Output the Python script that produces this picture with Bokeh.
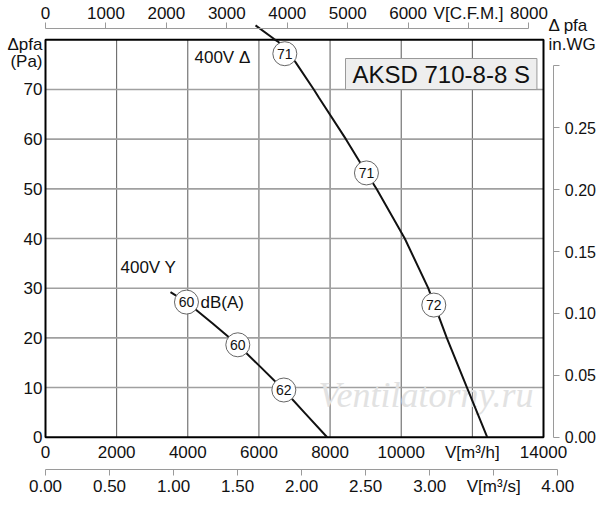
from bokeh.plotting import figure
from bokeh.models import Range1d, LinearAxis, FixedTicker, PrintfTickFormatter, Label
from bokeh.core.properties import value
from bokeh.embed import file_html
from bokeh.resources import INLINE

# ---------------- data ----------------
# 400V Delta curve (m3/h, Pa)
delta_q = [5904, 6418, 6559, 6854, 7028, 7543, 7684, 8445, 9025, 9305, 10100, 10760, 11281, 11849, 12417]
delta_p = [82.9, 80.2, 79.5, 77.0, 75.5, 70.0, 68.4, 60.0, 53.2, 50.0, 40.0, 30.0, 20.0, 10.0, 0.0]
# 400V Y curve
star_q = [3514, 3963, 4700, 5406, 6050, 6700, 7300, 7918]
star_p = [29.2, 27.2, 22.9, 18.6, 14.1, 9.5, 4.8, 0.0]
# sound level markers dB(A)
snd_q = [6728, 9023, 10916, 3963, 5406, 6700]
snd_p = [77.2, 53.2, 26.6, 27.2, 18.6, 9.5]
snd_txt = ["71", "71", "72", "60", "60", "62"]

# axes
m3h_ticks = [0, 2000, 4000, 6000, 8000, 10000, 12000, 14000]
m3h_labels = ["0", "2000", "4000", "6000", "8000", "10000", "V[m³/h]", "14000"]
cfm_ticks = [0, 1000, 2000, 3000, 4000, 5000, 6000, 7000, 8000]
cfm_labels = ["0", "1000", "2000", "3000", "4000", "5000", "6000", "V[C.F.M.]", "8000"]
m3s_ticks = [0.0, 0.5, 1.0, 1.5, 2.0, 2.5, 3.0, 3.5, 4.0]
m3s_labels = ["0.00", "0.50", "1.00", "1.50", "2.00", "2.50", "3.00", "V[m³/s]", "4.00"]
pa_ticks = [0, 10, 20, 30, 40, 50, 60, 70]
pa_max = 80
inwg_ticks = [0.0, 0.05, 0.1, 0.15, 0.2, 0.25, 0.3]
inwg_labels = ["0.00", "0.05", "0.10", "0.15", "0.20", "0.25", ""]

CFM = 1.69901      # m3/h per CFM
M3S = 3600.0       # m3/h per m3/s
INWG = 249.089     # Pa per in.WG

# ---------------- layout (pixels) ----------------
W, H = 598, 498
KX = 498.0 / 14000.0         # px per m3/h
KY = 4.9675                  # px per Pa
PX0, PY0 = 45.0, 436.7       # pixel of data origin


def dx(px):
    return (px - PX0) / KX


def dy(py):
    return (PY0 - py) / KY


X0, X1 = dx(0), dx(W)
Y0, Y1 = dy(H), dy(0)

FONT = "Liberation Sans"
GRAY = "#9a9a9a"
INK = "#111111"

p = figure(width=W, height=H, x_range=Range1d(X0, X1), y_range=Range1d(Y0, Y1),
           output_backend="svg", toolbar_location=None, min_border=0)
p.outline_line_color = None
p.grid.visible = False

p.extra_x_ranges = {"cfm": Range1d(X0 / CFM, X1 / CFM), "m3s": Range1d(X0 / M3S, X1 / M3S)}
p.extra_y_ranges = {"inwg": Range1d(Y0 / INWG, Y1 / INWG)}

# bottom m3/h axis
xa = p.xaxis[0]
xa.fixed_location = 0
xa.ticker = FixedTicker(ticks=m3h_ticks)
xa.major_label_overrides = dict(zip(m3h_ticks, m3h_labels))
xa.axis_line_color = None
xa.major_tick_line_color = None
xa.minor_tick_line_color = None
xa.major_tick_out = 0
xa.major_tick_in = 0
xa.major_label_standoff = 6
xa.major_label_text_font = FONT
xa.major_label_text_font_size = "17px"
xa.major_label_text_color = INK

# left Pa axis
ya = p.yaxis[0]
ya.fixed_location = 0
ya.ticker = FixedTicker(ticks=pa_ticks)
ya.axis_line_color = None
ya.major_tick_line_color = None
ya.minor_tick_line_color = None
ya.major_tick_out = 0
ya.major_tick_in = 0
ya.major_label_standoff = 3
ya.major_label_text_font = FONT
ya.major_label_text_font_size = "17px"
ya.major_label_text_color = INK

common = dict(axis_line_color=GRAY, major_tick_line_color=GRAY, major_tick_out=6,
              major_tick_in=0, minor_tick_out=0, minor_tick_in=0,
              major_label_text_font=FONT, major_label_text_color=INK)

# m3/s axis
ax_s = LinearAxis(x_range_name="m3s", ticker=FixedTicker(ticks=m3s_ticks),
                  formatter=PrintfTickFormatter(format="%.2f"),
                  major_label_overrides=dict(zip(m3s_ticks, m3s_labels)),
                  bounds=(0, 4), fixed_location=dy(469.3), major_label_standoff=1,
                  major_label_text_font_size="17px", **common)
p.add_layout(ax_s, "below")

# CFM axis
ax_c = LinearAxis(x_range_name="cfm", ticker=FixedTicker(ticks=cfm_ticks),
                  major_label_overrides=dict(zip(cfm_ticks, cfm_labels)),
                  bounds=(0, 8000), fixed_location=dy(28.0), major_label_standoff=0,
                  major_label_text_font_size="17px", **common)
p.add_layout(ax_c, "above")

# in.WG axis
ax_w = LinearAxis(y_range_name="inwg", ticker=FixedTicker(ticks=inwg_ticks),
                  formatter=PrintfTickFormatter(format="%.2f"),
                  major_label_overrides=dict(zip(inwg_ticks, inwg_labels)),
                  bounds=(0, 0.3), fixed_location=dx(553.3), major_label_standoff=5,
                  major_label_text_font_size="16px", **common)
p.add_layout(ax_w, "right")

# grid lines inside frame
vx = m3h_ticks[1:-1]
p.segment(x0=vx, y0=[pa_ticks[0]] * len(vx), x1=vx, y1=[pa_max] * len(vx),
          line_color="#5a5a5a", line_width=1)
hy = pa_ticks[1:]
p.segment(x0=[m3h_ticks[0]] * len(hy), y0=hy, x1=[m3h_ticks[-1]] * len(hy), y1=hy,
          line_color="#a0a0a0", line_width=1.6)

# watermark
p.text(x=[dx(318)], y=[dy(394)], text=["Ventilatorny.ru"], text_font=value("Liberation Serif"),
       text_font_style=value("italic"), text_font_size=value("36px"),
       text_color="#e2e2e2", text_baseline="middle", text_align="left")

# frame
p.quad(left=[m3h_ticks[0]], right=[m3h_ticks[-1]], bottom=[pa_ticks[0]], top=[pa_max],
       fill_color=None, line_color="black", line_width=2)

# curves
p.line(delta_q, delta_p, line_color=INK, line_width=2)
p.line(star_q, star_p, line_color=INK, line_width=2)

# sound markers
p.scatter(snd_q, snd_p, marker="circle", size=24, fill_color="white",
          line_color="#666666", line_width=1)
p.text(x=snd_q, y=snd_p, text=snd_txt, text_font=value(FONT), text_font_size=value("14px"),
       text_align="center", text_baseline="middle", text_color=INK)


def lab(px, py, t, size="17px", align="left", **kw):
    p.add_layout(Label(x=dx(px), y=dy(py), text=t, text_font=FONT, text_font_size=size,
                       text_align=align, text_baseline="middle", text_color=INK, **kw))


lab(194, 57, "400V Δ")
lab(120, 267, "400V Y")
lab(200, 302, "dB(A)")
lab(42, 44, "Δpfa", align="right")
lab(42, 61, "(Pa)", align="right")
lab(548, 25, "Δ pfa")
lab(548, 44, "in.WG")
lab(345, 73.5, "AKSD 710-8-8 S", size="24px",
    background_fill_color="#eeeeee", border_line_color="#999999",
    padding=dict(left=7, right=7, top=2, bottom=2))

open("out.html", "w").write(file_html(p, INLINE))
